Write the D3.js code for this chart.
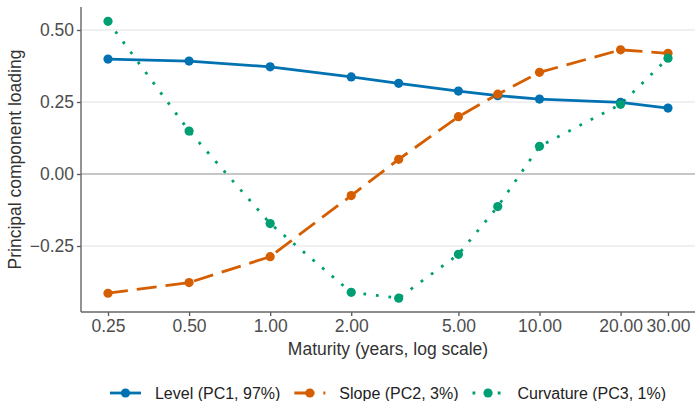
<!DOCTYPE html>
<html>
<head>
<meta charset="utf-8">
<script src="https://cdn.jsdelivr.net/npm/d3@7"></script>
<style>
  body { margin: 0; background: #fff; }
  text { font-family: "Liberation Sans", Arial, sans-serif; }
</style>
</head>
<body>
<div id="chart"></div>
<script>
// maturities (years) and loadings
var maturities = [0.25, 0.5, 1, 2, 3, 5, 7, 10, 20, 30];
var level     = [0.399, 0.392, 0.372, 0.337, 0.315, 0.288, 0.272, 0.260, 0.249, 0.229];
var slope     = [-0.414, -0.377, -0.287, -0.075, 0.051, 0.199, 0.277, 0.353, 0.431, 0.419];
var curvature = [0.530, 0.149, -0.172, -0.411, -0.431, -0.279, -0.113, 0.096, 0.242, 0.402];
var xTicks = [0.25, 0.5, 1, 2, 5, 10, 20, 30];
var yTicks = [-0.25, 0, 0.25, 0.5];
var seriesNames = ["Level (PC1, 97%)", "Slope (PC2, 3%)", "Curvature (PC3, 1%)"];
var colors = ["#0072B2", "#D55E00", "#009E73"];
var dashes = [null, "20,9", "2.8,9.8"];

var W = 695, H = 401;
var panel = {left: 81, right: 695, top: 7, bottom: 312};

var svg = d3.select("#chart").append("svg")
    .attr("width", W).attr("height", H);

// log x scale, linear y scale
var x = d3.scaleLog().domain([0.25, 30]).range([108, 668]);
var y = d3.scaleLinear().domain([-0.25, 0.5]).range([246, 30]);

// gridlines
svg.append("g").selectAll("line")
  .data(yTicks.filter(function(d) { return d != 0; }))
  .enter().append("line")
    .attr("x1", panel.left).attr("x2", panel.right)
    .attr("y1", function(d) { return y(d); })
    .attr("y2", function(d) { return y(d); })
    .attr("stroke", "#ebebeb").attr("stroke-width", 1.4);

// zero reference line
svg.append("line")
  .attr("x1", panel.left).attr("x2", panel.right)
  .attr("y1", y(0)).attr("y2", y(0))
  .attr("stroke", "#b3b3b3").attr("stroke-width", 1.4);

// axes
var xAxis = svg.append("g")
  .attr("transform", "translate(0," + panel.bottom + ")")
  .call(d3.axisBottom(x).tickValues(xTicks).tickFormat(d3.format(".2f")).tickSize(4).tickPadding(4));
var yAxis = svg.append("g")
  .attr("transform", "translate(" + panel.left + ",0)")
  .call(d3.axisLeft(y).tickValues(yTicks).tickFormat(d3.format(".2f")).tickSize(4).tickPadding(3));

[xAxis, yAxis].forEach(function(a) {
  a.select(".domain").remove();
  a.selectAll(".tick line").attr("stroke", "#555").attr("stroke-width", 1.3);
  a.selectAll(".tick text").attr("fill", "#4d4d4d").style("font-size", "17.5px")
    .style("font-family", "Liberation Sans, Arial, sans-serif");
});

// axis lines
svg.append("line")
  .attr("x1", panel.left).attr("x2", panel.right)
  .attr("y1", panel.bottom).attr("y2", panel.bottom)
  .attr("stroke", "#666").attr("stroke-width", 1.4);
svg.append("line")
  .attr("x1", panel.left).attr("x2", panel.left)
  .attr("y1", panel.top).attr("y2", panel.bottom)
  .attr("stroke", "#666").attr("stroke-width", 1.4);

// axis titles
svg.append("text")
  .attr("x", (panel.left + panel.right) / 2).attr("y", 355)
  .attr("text-anchor", "middle").attr("fill", "#333")
  .style("font-size", "17.5px")
  .text("Maturity (years, log scale)");
svg.append("text")
  .attr("transform", "translate(21," + (panel.top + panel.bottom) / 2 + ") rotate(-90)")
  .attr("text-anchor", "middle").attr("fill", "#333")
  .style("font-size", "17.5px")
  .text("Principal component loading");

var series = [level, slope, curvature].map(function(vals, i) {
  return {name: seriesNames[i], color: colors[i], dash: dashes[i],
          values: maturities.map(function(m, j) { return {m: m, v: vals[j]}; })};
});

var line = d3.line()
  .x(function(d) { return x(d.m); })
  .y(function(d) { return y(d.v); });

// lines first, then points
svg.append("g").selectAll("path")
  .data(series)
  .enter().append("path")
    .attr("d", function(s) { return line(s.values); })
    .attr("fill", "none")
    .attr("stroke", function(s) { return s.color; })
    .attr("stroke-width", 2.8)
    .attr("stroke-dasharray", function(s) { return s.dash; });

series.forEach(function(s) {
  svg.append("g").selectAll("circle")
    .data(s.values)
    .enter().append("circle")
      .attr("cx", function(d) { return x(d.m); })
      .attr("cy", function(d) { return y(d.v); })
      .attr("r", 4.6)
      .attr("fill", s.color);
});

// legend at bottom
var legend = svg.append("g");
var keyW = 31, gapText = 14, gapItem = 14, ly = 393;
var xpos = 0;
series.forEach(function(s) {
  var g = legend.append("g").attr("transform", "translate(" + xpos + ",0)");
  g.append("line")
    .attr("x1", 0).attr("x2", keyW).attr("y1", ly).attr("y2", ly)
    .attr("stroke", s.color).attr("stroke-width", 2.8)
    .attr("stroke-dasharray", s.dash);
  g.append("circle").attr("cx", keyW / 2).attr("cy", ly).attr("r", 4.6).attr("fill", s.color);
  var t = g.append("text")
    .attr("x", keyW + gapText).attr("y", ly).attr("dy", "0.35em")
    .attr("fill", "#222").style("font-size", "16px")
    .text(s.name);
  xpos += keyW + gapText + t.node().getComputedTextLength() + gapItem;
});
var total = xpos - gapItem;
legend.attr("transform", "translate(" + ((panel.left + panel.right) / 2 - total / 2) + ",0)");
</script>
</body>
</html>
